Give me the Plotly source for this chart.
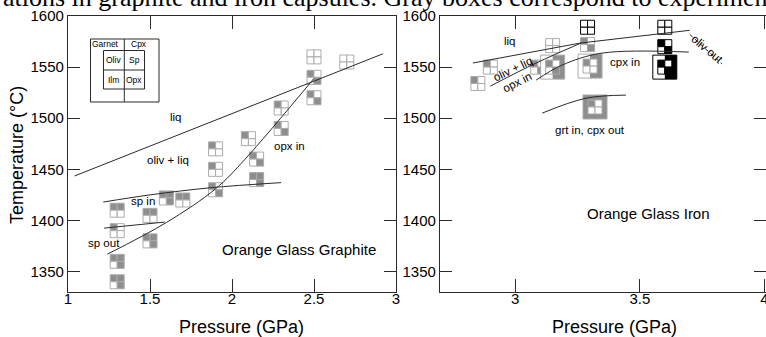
import plotly.graph_objects as go

W, H = 766, 337

# ---------------- data: Orange Glass Graphite (left panel) ----------------
g_P    = [2.5, 2.7, 2.5, 2.5, 2.3, 2.3, 2.1, 2.15, 1.9, 1.9, 1.9, 2.15, 1.6, 1.7, 1.3, 1.5, 1.3, 1.5, 1.3, 1.3]
g_T    = [1560, 1555, 1540, 1520, 1510, 1490, 1480, 1460, 1470, 1450, 1430, 1440, 1422, 1420, 1410, 1405, 1390, 1380, 1360, 1340]
g_oliv = [0, 0, 1, 1, 1, 1, 1, 1, 1, 1, 1, 1, 1, 1, 1, 1, 1, 1, 1, 1]
g_sp   = [0, 0, 0, 0, 0, 0, 0, 0, 0, 0, 0, 1, 1, 1, 1, 1, 0, 1, 1, 1]
g_ilm  = [0] * 20
g_opx  = [0, 0, 1, 1, 0, 1, 0, 1, 0, 0, 1, 1, 1, 0, 0, 0, 0, 1, 1, 1]
g_grt  = [0] * 20
g_cpx  = [0] * 20

# ---------------- data: Orange Glass Iron (right panel) ----------------
i_P     = [2.85, 2.90, 3.15, 3.09, 3.15, 3.29, 3.30, 3.32, 3.29, 3.60, 3.60, 3.60]
i_T     = [1534, 1550, 1571, 1550, 1550, 1572, 1551, 1511, 1589, 1589, 1570, 1550]
i_oliv  = [1, 1, 0, 1, 1, 1, 1, 1, 0, 0, 1, 1]
i_sp    = [0] * 12
i_ilm   = [0] * 12
i_opx   = [0, 0, 0, 1, 1, 1, 0, 0, 0, 0, 1, 1]
i_grt   = [0, 0, 0, 0, 0, 0, 0, 1, 0, 0, 0, 0]
i_cpx   = [0, 0, 0, 0, 1, 0, 1, 1, 0, 0, 0, 1]
i_black = [0, 0, 0, 0, 0, 0, 0, 0, 1, 1, 1, 1]

# ---------------- phase boundaries ----------------
g_liq_P   = [1.04, 2.92]
g_liq_T   = [1443.5, 1563]
g_opx_P   = [1.24, 1.6, 1.9, 2.08, 2.5]
g_opx_T   = [1367, 1398, 1431, 1460, 1539]
g_spin_P  = [1.215, 1.5, 1.87, 2.30]
g_spin_T  = [1418, 1425, 1432, 1437]
g_spout_P = [1.22, 1.59]
g_spout_T = [1392.5, 1398.4]

i_liq_P   = [2.83, 3.26, 3.70]
i_liq_T   = [1554, 1573.5, 1586]
i_opx_P   = [2.90, 3.084, 3.264]
i_opx_T   = [1531.4, 1554, 1573.5]
i_cpx_P   = [3.084, 3.188, 3.348, 3.696]
i_cpx_T   = [1537.3, 1552, 1563.7, 1564.7]
i_grt_P   = [3.108, 3.284, 3.444]
i_grt_T   = [1505, 1519.6, 1522.6]
i_olout_P = [3.70, 3.83]
i_olout_T = [1582, 1553]

x_ticks_left  = [1, 1.5, 2, 2.5, 3]
x_ticks_right = [3, 3.5, 4]
y_ticks       = [1350, 1400, 1450, 1500, 1550, 1600]

FONT = "Liberation Sans, Arial, sans-serif"
LINE = "#2a2a2a"
GRAY_FILL = "#8e8e8e"
GRAY_EDGE = "#ababab"


def px(x, y):
    """pixel -> paper coordinates (for the key and titles only)"""
    return x / W, 1 - y / H


def box_shapes(P, T, oliv, sp, ilm, opx, grt, cpx, xref, yref, dark=False):
    fill_on = "#000000" if dark else GRAY_FILL
    edge = "#000000" if dark else GRAY_EDGE
    base = dict(type="rect", xref=xref, yref=yref, xsizemode="pixel", ysizemode="pixel",
                xanchor=P, yanchor=T, layer="below")
    out = []
    c = 7
    if grt or cpx:
        r = 12
        out.append(dict(base, x0=-r, x1=0, y0=-r, y1=r,
                        fillcolor=fill_on if grt else "white", line=dict(width=0)))
        out.append(dict(base, x0=0, x1=r, y0=-r, y1=r,
                        fillcolor=fill_on if cpx else "white", line=dict(width=0)))
        out.append(dict(base, x0=-r, x1=r, y0=-r, y1=r,
                        fillcolor="rgba(0,0,0,0)", line=dict(color=edge, width=1)))
    cells = [(oliv, -c, 0, 0, c), (sp, 0, c, 0, c), (ilm, -c, 0, -c, 0), (opx, 0, c, -c, 0)]
    for on, x0, x1, y0, y1 in cells:
        out.append(dict(base, x0=x0, x1=x1, y0=y0, y1=y1,
                        fillcolor=fill_on if on else "white",
                        line=dict(color=edge, width=1)))
    return out


fig = go.Figure()

shapes = []
for k in range(len(g_P)):
    shapes += box_shapes(g_P[k], g_T[k], g_oliv[k], g_sp[k], g_ilm[k], g_opx[k],
                         g_grt[k], g_cpx[k], "x", "y")
for k in range(len(i_P)):
    shapes += box_shapes(i_P[k], i_T[k], i_oliv[k], i_sp[k], i_ilm[k], i_opx[k],
                         i_grt[k], i_cpx[k], "x2", "y2", dark=bool(i_black[k]))

# key (Garnet / Cpx / Oliv / Sp / Ilm / Opx)
kx0, ky0 = px(90.5, 39)
kx1, ky1 = px(159, 102)
ix0, iy0 = px(103.5, 50.5)
ix1, iy1 = px(144.5, 89)
kmx, _ = px(124.3, 0)
_, kmy = px(0, 70)
kl = dict(color=LINE, width=1)
shapes += [
    dict(type="rect", xref="paper", yref="paper", x0=kx0, x1=kx1, y0=ky1, y1=ky0, line=kl),
    dict(type="rect", xref="paper", yref="paper", x0=ix0, x1=ix1, y0=iy1, y1=iy0, line=kl),
    dict(type="line", xref="paper", yref="paper", x0=kmx, x1=kmx, y0=ky1, y1=ky0, line=kl),
    dict(type="line", xref="paper", yref="paper", x0=ix0, x1=ix1, y0=kmy, y1=kmy, line=kl),
]

def add_line(P, T, xa, ya, dash="solid", shape="spline"):
    fig.add_trace(go.Scatter(x=P, y=T, xaxis=xa, yaxis=ya, mode="lines",
                             line=dict(color=LINE, width=1, dash=dash, shape=shape),
                             hoverinfo="skip", showlegend=False))

add_line(g_liq_P, g_liq_T, "x", "y", shape="linear")
add_line(g_opx_P, g_opx_T, "x", "y")
add_line(g_spin_P, g_spin_T, "x", "y")
add_line(g_spout_P, g_spout_T, "x", "y", shape="linear")
add_line(i_liq_P, i_liq_T, "x2", "y2", shape="linear")
add_line(i_opx_P, i_opx_T, "x2", "y2")
add_line(i_cpx_P, i_cpx_T, "x2", "y2")
add_line(i_grt_P, i_grt_T, "x2", "y2")
add_line(i_olout_P, i_olout_T, "x2", "y2", dash="4px,3px", shape="linear")

ann = []
def label(text, x, y, xref, yref, size=11.5, angle=0, family=FONT, xanchor="center", yanchor="middle"):
    ann.append(dict(text=text, x=x, y=y, xref=xref, yref=yref, showarrow=False,
                    xanchor=xanchor, yanchor=yanchor,
                    textangle=angle, font=dict(family=family, size=size, color="black")))

# left panel labels
label("liq", 1.66, 1501, "x", "y")
label("oliv + liq", 1.61, 1459, "x", "y")
label("opx in", 2.35, 1473, "x", "y")
label("sp in", 1.46, 1419, "x", "y")
label("sp out", 1.22, 1378, "x", "y")
label("Orange Glass Graphite", 2.41, 1372, "x", "y", size=15)
# right panel labels
label("liq", 2.98, 1576, "x2", "y2")
label("oliv + liq", 2.99, 1548, "x2", "y2", angle=-26)
label("opx in", 3.01, 1535, "x2", "y2", angle=-27)
label("cpx in", 3.44, 1555, "x2", "y2")
label("grt in, cpx out", 3.30, 1488, "x2", "y2")
label("oliv out", 3.77, 1568, "x2", "y2", angle=40)
label("Orange Glass Iron", 3.536, 1407, "x2", "y2", size=15)

# key labels
for t, (xx, yy) in [("Garnet", (105, 44.5)), ("Cpx", (139, 44.5)), ("Oliv", (113.5, 60)),
                    ("Sp", (134, 60)), ("Ilm", (113.5, 80)), ("Opx", (134, 80))]:
    a, b = px(xx, yy)
    label(t, a, b, "paper", "paper", size=8.5)

# axis titles
a, b = px(241.5, 327)
label("Pressure (GPa)", a, b, "paper", "paper", size=18)
a, b = px(614, 327)
label("Pressure (GPa)", a, b, "paper", "paper", size=18)
a, b = px(17, 155)
label("Temperature (°C)", a, b, "paper", "paper", size=18, angle=-90)

# caption fragment (cropped at top of the image)
a, b = px(1, 14)
label("ations in graphite and iron capsules. Gray boxes correspond to experiments",
      a, b, "paper", "paper", size=26, family="Liberation Serif, Times New Roman, serif",
      xanchor="left", yanchor="bottom")

axis_common = dict(showgrid=False, zeroline=False, showline=True, linecolor=LINE, linewidth=1.3,
                   mirror="ticks", ticks="inside", tickcolor=LINE, tickwidth=1.2, automargin=False,
                   ticklabeloverflow="allow",
                   tickfont=dict(family=FONT, size=15, color="black"))

ydom = [45 / H, 321 / H]
fig.update_layout(
    width=W, height=H, margin=dict(l=0, r=0, t=0, b=0, autoexpand=False),
    paper_bgcolor="white", plot_bgcolor="white", showlegend=False,
    xaxis=dict(axis_common, domain=[68 / W, 396 / W], range=[1, 3], tickvals=x_ticks_left,
               ticktext=[f"{v:g}" for v in x_ticks_left], ticklen=13, ticklabelstandoff=-7, anchor="y"),
    yaxis=dict(axis_common, domain=ydom, range=[1330, 1600], tickvals=y_ticks, ticklen=12, anchor="x"),
    xaxis2=dict(axis_common, domain=[440 / W, 1.0], range=[2.698, 4.006], tickvals=x_ticks_right,
                ticktext=[f"{v:g}" for v in x_ticks_right], ticklen=13, ticklabelstandoff=-7, anchor="y2"),
    yaxis2=dict(axis_common, domain=ydom, range=[1330, 1600], tickvals=y_ticks, ticklen=12, anchor="x2"),
    shapes=shapes, annotations=ann,
)

fig.write_html("out.html", config={"displayModeBar": False},
               post_script="document.body.style.margin='0px';document.body.style.padding='0px';")
